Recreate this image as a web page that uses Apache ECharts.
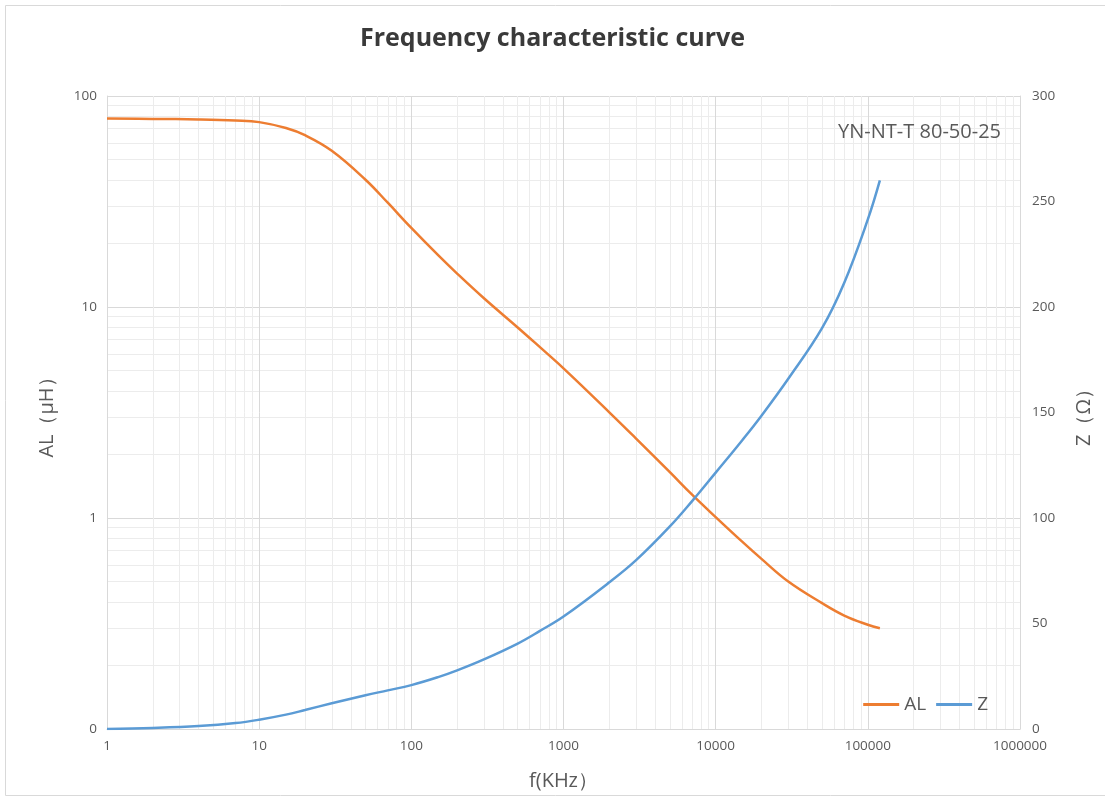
<!DOCTYPE html>
<html>
<head>
<meta charset="utf-8">
<script src="https://cdn.jsdelivr.net/npm/echarts@6/dist/echarts.min.js"></script>
<style>
html,body{margin:0;padding:0;background:#fff;}
#chart{width:1105px;height:796px;}
</style>
</head>
<body>
<div id="chart"></div>
<script>
const freq = [1, 2, 4, 7, 10, 15, 20, 30, 50, 70, 100, 150, 200, 300, 500, 700, 1000, 2000, 3000, 5000, 7000, 10000, 15000, 20000, 30000, 50000, 70000, 100000, 120000];
const alValues = [78.3, 77.9, 77.4, 76.5, 75.2, 70.5, 65.2, 55.0, 40.1, 31.2, 23.7, 17.6, 14.4, 11.0, 8.0, 6.45, 5.12, 3.17, 2.38, 1.65, 1.29, 1.01, 0.77, 0.64, 0.50, 0.395, 0.345, 0.312, 0.30];
const zValues = [0, 0.5, 1.4, 2.8, 4.4, 6.8, 9, 12.2, 16, 18.3, 20.8, 24.6, 27.8, 33, 40.5, 46.5, 53.3, 69.5, 80, 96, 108, 121.5, 137, 148.5, 166, 190, 211.5, 241.5, 260];
const xTicks = [1, 10, 100, 1000, 10000, 100000, 1000000];
const alTicks = [0.1, 1, 10, 100];
const zTicks = [0, 50, 100, 150, 200, 250, 300];
const seriesNames = ['AL', 'Z'];
const titleText = 'Frequency characteristic curve';
const modelText = 'YN-NT-T 80-50-25';

const chart = echarts.init(document.getElementById('chart'));
const labelColor = '#595959';
const fontFam = '"Open Sans", "Noto Sans", sans-serif';

chart.setOption({
  backgroundColor: '#fff',
  animation: false,
  title: [
    { text: titleText, left: 'center', top: 21,
      textStyle: { fontFamily: fontFam, fontWeight: 'bold', fontSize: 25, color: '#3a3a3a' } },
    { text: modelText, right: 99, top: 117,
      textStyle: { fontFamily: fontFam, fontWeight: 'normal', fontSize: 20, color: labelColor } }
  ],
  legend: {
    data: seriesNames,
    right: 112, top: 690,
    icon: 'rect', itemWidth: 36, itemHeight: 3, itemGap: 10,
    textStyle: { fontFamily: fontFam, fontSize: 19, color: labelColor }
  },
  grid: { left: 107, right: 85, top: 96, bottom: 65, containLabel: false },
  xAxis: {
    type: 'log', logBase: 10, min: xTicks[0], max: xTicks[xTicks.length - 1],
    name: 'f(KHz）', nameLocation: 'middle', nameGap: 42,
    nameTextStyle: { fontFamily: fontFam, fontSize: 20, color: labelColor },
    axisLine: { show: true, lineStyle: { color: '#d9d9d9' } },
    axisTick: { show: false },
    axisLabel: { fontFamily: fontFam, fontSize: 13.5, color: labelColor, margin: 10,
      formatter: v => String(Math.round(v)) },
    splitLine: { show: true, lineStyle: { color: '#d9d9d9', width: 1 } },
    minorTick: { show: false, splitNumber: 9 },
    minorSplitLine: { show: true, lineStyle: { color: '#ececec', width: 1 } }
  },
  yAxis: [
    {
      type: 'log', logBase: 10, min: alTicks[0], max: alTicks[alTicks.length - 1],
      name: 'AL（μH）', nameLocation: 'middle', nameGap: 50,
      nameTextStyle: { fontFamily: fontFam, fontSize: 20, color: labelColor },
      axisLine: { show: true, lineStyle: { color: '#d9d9d9' } },
      axisTick: { show: false },
      axisLabel: { fontFamily: fontFam, fontSize: 13.5, color: labelColor, margin: 10,
        formatter: v => (v < 1 ? '0' : String(Math.round(v))) },
      splitLine: { show: true, lineStyle: { color: '#d9d9d9', width: 1 } },
      minorTick: { show: false, splitNumber: 9 },
      minorSplitLine: { show: true, lineStyle: { color: '#ececec', width: 1 } }
    },
    {
      type: 'value', min: zTicks[0], max: zTicks[zTicks.length - 1], interval: 50,
      name: 'Z（Ω）', nameLocation: 'middle', nameGap: 54,
      nameTextStyle: { fontFamily: fontFam, fontSize: 20, color: labelColor },
      axisLine: { show: true, lineStyle: { color: '#d9d9d9' } },
      axisTick: { show: false },
      axisLabel: { fontFamily: fontFam, fontSize: 13.5, color: labelColor, margin: 12 },
      splitLine: { show: false }
    }
  ],
  series: [
    {
      name: seriesNames[0], type: 'line', yAxisIndex: 0, smooth: 0.4, showSymbol: false,
      lineStyle: { color: '#ED7D31', width: 2.5 }, itemStyle: { color: '#ED7D31' },
      data: freq.map((f, i) => [f, alValues[i]])
    },
    {
      name: seriesNames[1], type: 'line', yAxisIndex: 1, smooth: 0.4, showSymbol: false,
      lineStyle: { color: '#5B9BD5', width: 2.5 }, itemStyle: { color: '#5B9BD5' },
      data: freq.map((f, i) => [f, zValues[i]])
    }
  ],
  graphic: [
    { type: 'rect', left: 3, top: 3, shape: { width: 1100, height: 790 },
      style: { fill: 'none', stroke: '#d9d9d9', lineWidth: 1 }, silent: true, z: -10 }
  ]
});
</script>
</body>
</html>
